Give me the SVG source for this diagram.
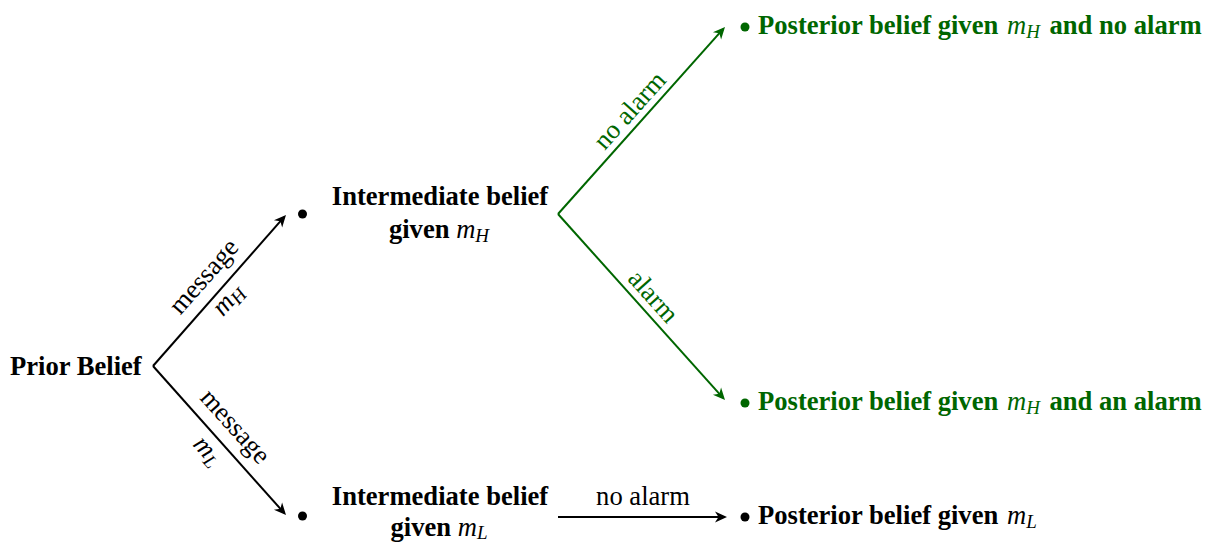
<svg xmlns="http://www.w3.org/2000/svg" width="1207" height="544" viewBox="0 0 1207 544">
<style>
text{font-family:"Liberation Serif","Times New Roman",serif;font-size:26.6px;fill:#000}
.b{font-weight:bold}
.m{font-style:italic;font-weight:normal}
.s{font-size:19px}
.g{fill:#006600}
.lk{stroke:#000;stroke-width:2;fill:none}
.lg{stroke:#006600;stroke-width:2;fill:none}
.dot{fill:#000}
.gdot{fill:#006600}
</style>
<defs>
<marker id="ak" markerUnits="userSpaceOnUse" viewBox="-11 -7 15 14" markerWidth="15" markerHeight="14" refX="0" refY="0" orient="auto">
<path d="M3,0 L-9,-5.5 L-5.5,0 L-9,5.5 Z" fill="#000"/>
</marker>
<marker id="ag" markerUnits="userSpaceOnUse" viewBox="-11 -7 15 14" markerWidth="15" markerHeight="14" refX="0" refY="0" orient="auto">
<path d="M3,0 L-9,-5.5 L-5.5,0 L-9,5.5 Z" fill="#006600"/>
</marker>
</defs>

<g id="connectors">
<g id="e-prior-h">
<line class="lk" x1="153" y1="366" x2="284" y2="217.2" marker-end="url(#ak)"/>
<text transform="translate(210,282) rotate(-48.6)" text-anchor="middle">message</text>
<text transform="translate(234,305) rotate(-48.6)" text-anchor="middle"><tspan class="m">m</tspan><tspan class="m s" dy="4">H</tspan></text>
</g>
<g id="e-prior-l">
<line class="lk" x1="153" y1="366" x2="284" y2="512.8" marker-end="url(#ak)"/>
<text transform="translate(229,432) rotate(48.2)" text-anchor="middle">message</text>
<text transform="translate(202,456) rotate(48.2)" text-anchor="middle"><tspan class="m">m</tspan><tspan class="m s" dy="4">L</tspan></text>
</g>
<g id="e-h-noalarm">
<line class="lg" x1="558" y1="214" x2="723" y2="29.2" marker-end="url(#ag)"/>
<text class="g" transform="translate(636,116) rotate(-48.2)" text-anchor="middle">no alarm</text>
</g>
<g id="e-h-alarm">
<line class="lg" x1="558" y1="214" x2="723" y2="397.8" marker-end="url(#ag)"/>
<text class="g" transform="translate(647,302) rotate(48.1)" text-anchor="middle">alarm</text>
</g>
<g id="e-l-noalarm">
<line class="lk" x1="558" y1="517" x2="724" y2="517" marker-end="url(#ak)"/>
<text x="643" y="505" text-anchor="middle">no alarm</text>
</g>
</g>

<g id="prior">
<text class="b" x="10" y="375">Prior Belief</text>
</g>

<g id="inter-h">
<circle class="dot" cx="302.5" cy="214" r="4.5"/>
<text class="b" x="440" y="205" text-anchor="middle">Intermediate belief</text>
<text class="b" x="439" y="238" text-anchor="middle">given <tspan class="m">m</tspan><tspan class="m s" dy="4">H</tspan></text>
</g>

<g id="inter-l">
<circle class="dot" cx="302.5" cy="516" r="4.5"/>
<text class="b" x="440" y="505" text-anchor="middle">Intermediate belief</text>
<text class="b" x="439" y="536" text-anchor="middle">given <tspan class="m">m</tspan><tspan class="m s" dy="3">L</tspan></text>
</g>

<g id="post-h-noalarm">
<circle class="gdot" cx="745" cy="27" r="4.5"/>
<text class="b g" x="758" y="34">Posterior belief given <tspan class="m" dx="2">m</tspan><tspan class="m s" dy="4">H</tspan><tspan dy="-4" dx="3"> and no alarm</tspan></text>
</g>

<g id="post-h-alarm">
<circle class="gdot" cx="745" cy="403" r="4.5"/>
<text class="b g" x="758" y="410">Posterior belief given <tspan class="m" dx="2">m</tspan><tspan class="m s" dy="4">H</tspan><tspan dy="-4" dx="3"> and an alarm</tspan></text>
</g>

<g id="post-l">
<circle class="dot" cx="745" cy="517" r="4.5"/>
<text class="b" x="758" y="524">Posterior belief given <tspan class="m" dx="2">m</tspan><tspan class="m s" dy="4">L</tspan></text>
</g>
</svg>
